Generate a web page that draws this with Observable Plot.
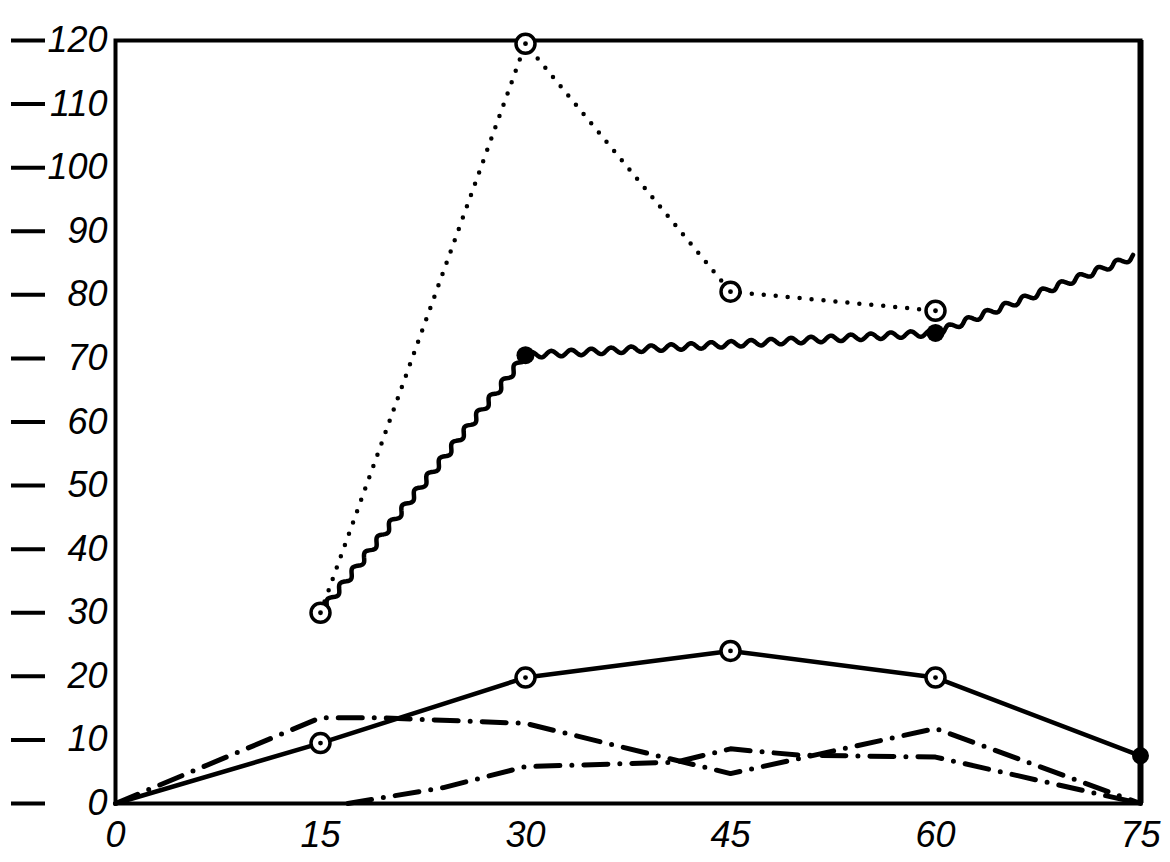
<!DOCTYPE html>
<html>
<head>
<meta charset="utf-8">
<script src="https://cdn.jsdelivr.net/npm/d3@7"></script>
<script src="https://cdn.jsdelivr.net/npm/@observablehq/plot@0.6"></script>
<style>
  html, body { margin: 0; padding: 0; background: #fff; }
  #chart svg { display: block; }
</style>
</head>
<body>
<div id="chart"></div>
<script>
// ---- data ----
const xTicks = [0, 15, 30, 45, 60, 75];
const yTicks = [0, 10, 20, 30, 40, 50, 60, 70, 80, 90, 100, 110, 120];

// dotted line, open circles
const dottedX = [15, 30, 45, 60];
const dottedY = [30, 119.5, 80.5, 77.5];

// wavy line, filled dots
const wavyX = [15, 30, 60, 74.5];
const wavyY = [30, 70.5, 74, 86];
const wavyDotX = [30, 60];
const wavyDotY = [70.5, 74];

// solid line, open circles (filled at end)
const solidX = [0, 15, 30, 45, 60, 75];
const solidY = [0, 9.5, 19.8, 24, 19.8, 7.5];

// dash-dot line A
const dashAX = [0, 15, 19, 30, 45, 60, 75];
const dashAY = [0, 13.5, 13.5, 12.6, 4.7, 11.8, 0];

// dash-dot line B
const dashBX = [17, 24, 30, 41, 45, 50, 60, 75];
const dashBY = [0, 2.5, 5.8, 6.5, 8.6, 7.6, 7.3, 0];

const zip = (xs, ys) => xs.map((x, i) => ({x, y: ys[i]}));

// custom wavy curve (points come already projected through Plot's scales)
function wavyCurve(context) {
  let pts = [];
  return {
    areaStart() {}, areaEnd() {},
    lineStart() { pts = []; },
    point(x, y) { pts.push([+x, +y]); },
    lineEnd() {
      if (!pts.length) return;
      const wl = 20, amp = 3;
      let s = 0;
      context.moveTo(pts[0][0], pts[0][1]);
      for (let i = 1; i < pts.length; i++) {
        const [x0, y0] = pts[i - 1], [x1, y1] = pts[i];
        const dx = x1 - x0, dy = y1 - y0, L = Math.hypot(dx, dy);
        if (!L) continue;
        const nx = -dy / L, ny = dx / L;
        const n = Math.max(2, Math.ceil(L / 1.2));
        for (let k = 1; k <= n; k++) {
          const t = k / n;
          const off = amp * Math.sin(2 * Math.PI * (s + t * L) / wl);
          context.lineTo(x0 + dx * t + nx * off, y0 + dy * t + ny * off);
        }
        s += L;
      }
    }
  };
}

const font = "'Liberation Sans', 'DejaVu Sans', sans-serif";

const chart = Plot.plot({
  width: 1170,
  height: 862,
  marginLeft: 115,
  marginRight: 30,
  marginTop: 40,
  marginBottom: 59,
  style: {fontFamily: font, fontStyle: "italic", background: "#fff", color: "#000"},
  x: {domain: [0, 75], label: null},
  y: {domain: [0, 120], label: null},
  marks: [
    Plot.frame({stroke: "#000", strokeWidth: 4}),
    Plot.ruleX([75], {stroke: "#000", strokeWidth: 6}),
    // y axis labels
    Plot.axisY({ticks: yTicks, tickSize: 0, tickPadding: 8, fontSize: 36, fontStyle: "italic", label: null}),
    // y axis tick dashes, set out to the left of the labels
    Plot.axisY({ticks: yTicks, tickSize: 34, dx: -70, tickFormat: () => "", stroke: "#000", strokeWidth: 4, label: null}),
    // x axis labels
    Plot.axisX({ticks: xTicks, tickSize: 0, tickPadding: 10, dy: 8, fontSize: 36, fontStyle: "italic", label: null}),

    // dash-dot lines
    Plot.line(zip(dashAX, dashAY), {x: "x", y: "y", stroke: "#000", strokeWidth: 5,
      strokeDasharray: "24 12 0 12", strokeLinecap: "round"}),
    Plot.line(zip(dashBX, dashBY), {x: "x", y: "y", stroke: "#000", strokeWidth: 5,
      strokeDasharray: "24 12 0 12", strokeLinecap: "round"}),

    // solid line
    Plot.line(zip(solidX, solidY), {x: "x", y: "y", stroke: "#000", strokeWidth: 4.5}),

    // dotted line
    Plot.line(zip(dottedX, dottedY), {x: "x", y: "y", stroke: "#000", strokeWidth: 4.5,
      strokeDasharray: "0 12", strokeLinecap: "round"}),

    // wavy line
    Plot.line(zip(wavyX, wavyY), {x: "x", y: "y", stroke: "#000", strokeWidth: 4.5, curve: wavyCurve}),

    // markers
    Plot.dot(zip(dottedX, dottedY), {x: "x", y: "y", r: 9.5, fill: "#fff", stroke: "#000", strokeWidth: 3.5}),
    Plot.dot(zip(dottedX, dottedY), {x: "x", y: "y", r: 2.4, fill: "#000"}),
    Plot.dot(zip(solidX.slice(1, 5), solidY.slice(1, 5)), {x: "x", y: "y", r: 9.5, fill: "#fff", stroke: "#000", strokeWidth: 3.5}),
    Plot.dot(zip(solidX.slice(1, 5), solidY.slice(1, 5)), {x: "x", y: "y", r: 2.4, fill: "#000"}),
    Plot.dot(zip(solidX.slice(5), solidY.slice(5)), {x: "x", y: "y", r: 8.5, fill: "#000"}),
    Plot.dot(zip(wavyDotX, wavyDotY), {x: "x", y: "y", r: 9, fill: "#000"})
  ]
});

document.getElementById("chart").append(chart);
</script>
</body>
</html>
